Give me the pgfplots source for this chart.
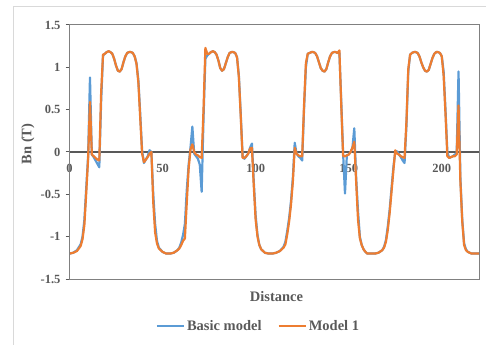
\documentclass[border=0pt]{standalone}
\usepackage{fontspec}
\setmainfont{Liberation Serif}
\usepackage{pgfplots}
\usepackage{pgfplotstable}
\pgfplotsset{compat=1.18}

\definecolor{basicblue}{HTML}{5B9BD5}
\definecolor{modelorange}{HTML}{ED7D31}
\definecolor{axgray}{HTML}{595959}
\definecolor{framegray}{HTML}{808080}
\definecolor{chartborder}{HTML}{D9D9D9}

\newcommand{\tickfont}{\fontsize{12.5bp}{15bp}\selectfont\bfseries}
\newcommand{\labfont}{\fontsize{14.5bp}{17bp}\selectfont\bfseries}

% x = distance, basic = Basic model, model = Model 1
\pgfplotstableread{
x basic model
0 -1.20 -1.20
2 -1.19 -1.19
4 -1.16 -1.17
6 -1.09 -1.11
7 -1.00 -1.03
8 -0.80 -0.86
9 -0.42 -0.48
10 -0.05 -0.08
11 0.88 0.59
12 -0.03 -0.03
13 -0.06 -0.05
14 -0.10 -0.07
15 -0.14 -0.09
16 -0.18 -0.10
17 0.60 0.70
18 1.14 1.15
19 1.16 1.16
20 1.18 1.18
21 1.19 1.19
22 1.18 1.18
23 1.16 1.16
24 1.10 1.10
25 1.02 1.02
26 0.96 0.96
27 0.95 0.95
28 0.98 0.98
29 1.06 1.06
30 1.13 1.13
31 1.17 1.17
32 1.18 1.18
33 1.18 1.18
34 1.17 1.17
35 1.13 1.13
36 1.05 1.04
37 0.85 0.82
38 0.45 0.40
39 0.02 -0.02
40 -0.13 -0.12
41 -0.09 -0.09
42 -0.05 -0.06
43 0.02 -0.02
44 0.00 0.00
45 -0.50 -0.60
46 -0.85 -0.95
47 -1.05 -1.08
48 -1.13 -1.14
50 -1.18 -1.18
52 -1.20 -1.20
54 -1.20 -1.20
56 -1.19 -1.19
58 -1.16 -1.16
59 -1.13 -1.14
60 -1.07 -1.10
61 -0.98 -1.05
62 -0.85 -1.02
63 -0.45 -0.60
64 -0.15 -0.20
65 0.05 0.03
66 0.30 0.09
67 -0.02 0.00
68 -0.05 -0.03
69 -0.08 -0.04
70 -0.15 -0.06
71 -0.47 -0.07
72 0.40 0.50
73 1.10 1.23
74 1.14 1.16
75 1.16 1.16
76 1.18 1.18
77 1.19 1.19
78 1.18 1.18
79 1.15 1.15
80 1.08 1.08
81 0.99 0.99
82 0.96 0.96
83 0.98 0.98
84 1.05 1.05
85 1.12 1.12
86 1.17 1.17
87 1.18 1.18
88 1.18 1.18
89 1.17 1.17
90 1.12 1.12
91 0.90 0.88
92 0.45 0.42
93 -0.05 -0.07
94 -0.08 -0.07
95 -0.05 -0.05
96 -0.02 -0.02
97 0.05 0.04
98 0.10 0.05
99 -0.35 -0.40
100 -0.75 -0.80
101 -0.98 -1.00
102 -1.10 -1.10
103 -1.15 -1.15
105 -1.19 -1.19
107 -1.20 -1.20
109 -1.20 -1.20
111 -1.19 -1.19
113 -1.17 -1.17
115 -1.12 -1.13
116 -1.06 -1.09
117 -0.93 -0.97
118 -0.78 -0.82
119 -0.58 -0.62
120 -0.30 -0.35
121 0.11 0.05
122 -0.02 -0.02
123 -0.05 -0.04
124 -0.07 -0.05
125 -0.10 -0.05
126 0.50 0.55
127 1.00 1.05
128 1.16 1.16
129 1.17 1.17
130 1.18 1.18
131 1.18 1.18
132 1.17 1.17
133 1.13 1.13
134 1.06 1.06
135 0.99 0.99
136 0.96 0.96
137 0.95 0.95
138 0.98 0.98
139 1.06 1.06
140 1.13 1.13
141 1.17 1.17
142 1.18 1.18
143 1.18 1.18
144 1.17 1.17
145 1.17 1.20
146 0.60 0.55
147 -0.02 -0.05
148 -0.49 -0.05
149 -0.04 -0.04
150 -0.03 -0.03
151 0.00 0.00
152 0.05 0.05
153 0.28 0.12
154 -0.30 -0.35
155 -0.70 -0.80
156 -1.00 -1.02
157 -1.10 -1.10
158 -1.15 -1.15
159 -1.18 -1.18
160 -1.20 -1.20
162 -1.20 -1.20
164 -1.20 -1.20
166 -1.19 -1.19
168 -1.16 -1.16
169 -1.12 -1.13
170 -1.04 -1.06
171 -0.88 -0.92
172 -0.68 -0.72
173 -0.43 -0.47
174 -0.18 -0.22
175 0.00 0.02
176 0.01 -0.02
177 -0.03 -0.03
178 -0.06 -0.05
179 -0.10 -0.06
180 -0.13 -0.07
181 0.30 0.35
182 0.95 0.98
183 1.15 1.15
184 1.17 1.17
185 1.18 1.18
186 1.18 1.18
187 1.17 1.17
188 1.13 1.13
189 1.06 1.06
190 1.00 1.00
191 0.96 0.96
192 0.95 0.95
193 0.97 0.97
194 1.04 1.04
195 1.11 1.11
196 1.16 1.16
197 1.18 1.18
198 1.18 1.18
199 1.17 1.17
200 1.13 1.13
201 0.95 0.90
202 0.50 0.45
203 0.00 -0.05
204 -0.07 -0.07
205 -0.06 -0.06
206 -0.05 -0.05
207 -0.03 -0.05
208 -0.02 -0.03
209 0.95 0.55
210 -0.30 -0.35
211 -0.80 -0.82
212 -1.08 -1.10
213 -1.15 -1.16
214 -1.18 -1.18
216 -1.20 -1.20
218 -1.20 -1.20
220 -1.20 -1.20
}\fielddata

\begin{document}
\begin{tikzpicture}
\path[use as bounding box] (0bp,0bp) rectangle (486bp,345bp);
\draw[chartborder, line width=1bp] (13bp,0bp) -- (13bp,338bp) -- (486bp,338bp);

\begin{axis}[
    at={(69.5bp,66bp)}, anchor=south west,
    width=409.5bp, height=254bp, scale only axis,
    xmin=0, xmax=220, ymin=-1.5, ymax=1.5,
    axis x line*=middle, axis y line*=left,
    axis line style={axgray, line width=1.3bp},
    hide obscured x ticks=false,
    xtick={0,50,100,150,200},
    xticklabels={0,50,100,150,200},
    ytick={-1.5,-1,-0.5,0,0.5,1,1.5},
    yticklabels={-1.5,-1,-0.5,0,0.5,1,1.5},
    tick align=outside,
    major tick length=4bp,
    xtick style={draw=none},
    ytick style={axgray, line width=1bp},
    xticklabel style={font=\tickfont, text=axgray, yshift=-5bp},
    yticklabel style={font=\tickfont, text=axgray, anchor=east, xshift=-1.5bp},
    legend columns=2,
    legend style={at={(0.4615,-0.185)}, anchor=center, draw=none, fill=none,
        font=\labfont, text=axgray,
        /tikz/every even column/.append style={column sep=14bp}},
    legend image code/.code={\draw[#1, line width=2.2bp] (0bp,0bp) -- (27bp,0bp);},
    after end axis/.code={
        \draw[framegray, line width=1bp] (rel axis cs:0,0) rectangle (rel axis cs:1,1);
    },
]
\addplot[basicblue, line width=2.2bp, line join=round] table[x=x, y=basic] {\fielddata};
\addlegendentry{Basic model}
\addplot[modelorange, line width=2.2bp, line join=round] table[x=x, y=model] {\fielddata};
\addlegendentry{Model 1}
\end{axis}

\node[font=\labfont, text=axgray, rotate=90] at (28bp,201bp) {Bn (T)};
\node[font=\labfont, text=axgray] at (276.5bp,48.5bp) {Distance};
\end{tikzpicture}
\end{document}
